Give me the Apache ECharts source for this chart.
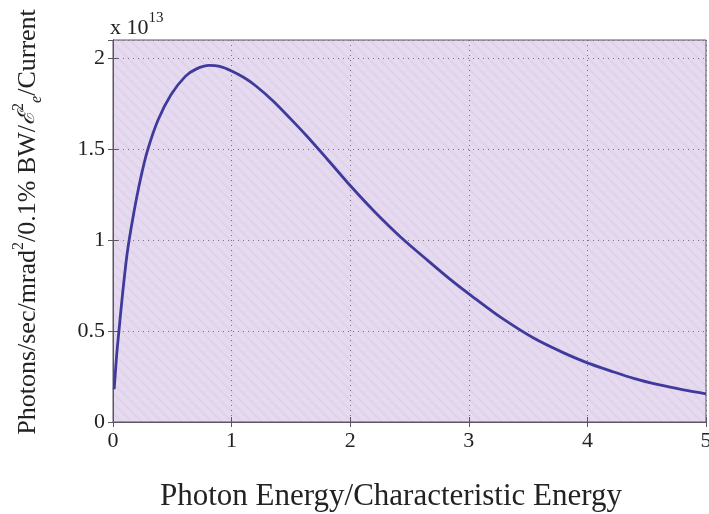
<!DOCTYPE html>
<html>
<head>
<meta charset="utf-8">
<script src="https://cdn.jsdelivr.net/npm/echarts@6/dist/echarts.min.js"></script>
<style>
html,body{margin:0;padding:0;background:#fff;}
#chart{width:709px;height:514px;}
</style>
</head>
<body>
<div id="chart"></div>
<script>
// Photon energy / characteristic energy (x) and brightness in units of 1e13 (y)
const energyRatio = [0.01, 0.03, 0.05, 0.08, 0.12, 0.17, 0.23, 0.29, 0.38, 0.49, 0.61, 0.7, 0.81, 0.9, 1.0, 1.1, 1.2, 1.35, 1.5, 1.63, 1.8, 2.0, 2.2, 2.42, 2.65, 2.87, 3.05, 3.27, 3.55, 3.8, 4.0, 4.2, 4.39, 4.6, 4.8, 5.0];
const brightness  = [0.18, 0.36, 0.50, 0.70, 0.93, 1.13, 1.33, 1.49, 1.66, 1.80, 1.90, 1.94, 1.96, 1.955, 1.93, 1.895, 1.85, 1.765, 1.665, 1.575, 1.45, 1.30, 1.16, 1.02, 0.89, 0.77, 0.68, 0.575, 0.46, 0.38, 0.325, 0.28, 0.24, 0.205, 0.178, 0.155];
const xTicks = [0, 1, 2, 3, 4, 5];
const yTicks = [0, 0.5, 1, 1.5, 2];
const xTitle = 'Photon Energy/Characteristic Energy';
const exponentText = '13';

const seriesData = energyRatio.map((x, i) => [x, brightness[i]]);

// subtle print-like hatch pattern for the plot background
function makePattern(){
  const c = document.createElement('canvas');
  c.width = 10; c.height = 10;
  const g = c.getContext('2d');
  g.fillStyle = '#e4dbf0';
  g.fillRect(0, 0, 10, 10);
  g.strokeStyle = 'rgba(228,204,230,0.7)';
  g.lineWidth = 2;
  for (let k = -10; k <= 20; k += 10) {
    g.beginPath(); g.moveTo(k, 0); g.lineTo(k + 10, 10); g.stroke();
  }
  return c;
}

const chart = echarts.init(document.getElementById('chart'), null, {renderer: 'canvas'});
const serif = '"Liberation Serif", "DejaVu Serif", serif';
const axisCol = '#5a5560';

chart.setOption({
  backgroundColor: '#ffffff',
  animation: false,
  grid: {
    left: 113, right: 3, top: 40, bottom: 92,
    outerBoundsMode: 'none', containLabel: false,
    show: true, backgroundColor: {image: makePattern(), repeat: 'repeat'},
    borderColor: axisCol, borderWidth: 1
  },
  xAxis: [{
    type: 'value', min: 0, max: 5, interval: 1,
    axisLine: {show: true, onZero: false, lineStyle: {color: axisCol, width: 1}},
    axisTick: {show: true, inside: true, length: 5, lineStyle: {color: axisCol}},
    axisLabel: {show: true, margin: 8, color: '#222', fontFamily: serif, fontSize: 22,
      formatter: v => xTicks.includes(v) ? String(v) : ''},
    splitLine: {show: true, lineStyle: {color: '#77707f', type: [1, 4], width: 1}}
  }, {
    type: 'value', min: 0, max: 5, interval: 1, position: 'top',
    axisLine: {show: true, lineStyle: {color: axisCol}},
    axisTick: {show: true, inside: true, length: 5, lineStyle: {color: axisCol}},
    axisLabel: {show: false}, splitLine: {show: false}
  }],
  yAxis: [{
    type: 'value', min: 0, max: 2.1, interval: 0.5,
    axisLine: {show: true, onZero: false, lineStyle: {color: axisCol, width: 1}},
    axisTick: {show: true, inside: true, length: 5, lineStyle: {color: axisCol}},
    axisLabel: {show: true, margin: 8, color: '#222', fontFamily: serif, fontSize: 22,
      showMaxLabel: false,
      formatter: v => yTicks.includes(v) ? String(v) : ''},
    splitLine: {show: true, lineStyle: {color: '#77707f', type: [1, 4], width: 1}}
  }, {
    type: 'value', min: 0, max: 2.1, interval: 0.5, position: 'right',
    axisLine: {show: true, lineStyle: {color: axisCol}},
    axisTick: {show: true, inside: true, length: 5, lineStyle: {color: axisCol}},
    axisLabel: {show: false}, splitLine: {show: false}
  }],
  graphic: [{
    type: 'text', left: 110, top: 11,
    style: {
      text: '{a|x 10}{e|' + exponentText + '}',
      rich: {
        a: {fontFamily: serif, fontSize: 22, fill: '#222', lineHeight: 28, verticalAlign: 'bottom'},
        e: {fontFamily: serif, fontSize: 15, fill: '#222', lineHeight: 28, verticalAlign: 'top'}
      }
    }
  }, {
    type: 'text', x: 391, y: 497,
    style: {
      text: xTitle, fontFamily: serif, fontSize: 31, fill: '#222',
      align: 'center', verticalAlign: 'middle'
    }
  }, {
    type: 'text', x: 28, y: 222, rotation: Math.PI / 2,
    style: {
      text: '{t|Photons/sec/mrad}{s|2}{t|/0.1% BW/}{E|ℰ}{s|2}{b|e}{t|/Current}',
      align: 'center', verticalAlign: 'middle',
      rich: {
        t: {fontFamily: serif, fontSize: 26, fill: '#222', lineHeight: 34, verticalAlign: 'middle'},
        E: {fontFamily: '"DejaVu Serif", serif', fontStyle: 'italic', fontSize: 23, fill: '#222', lineHeight: 34, verticalAlign: 'middle'},
        s: {fontFamily: serif, fontSize: 16, fill: '#222', verticalAlign: 'top', lineHeight: 34},
        b: {fontFamily: serif, fontStyle: 'italic', fontSize: 16, fill: '#222', verticalAlign: 'bottom', lineHeight: 34}
      }
    }
  }],
  series: [{
    type: 'line', data: seriesData, xAxisIndex: 0, yAxisIndex: 0,
    smooth: 0.3, showSymbol: false, symbol: 'none',
    lineStyle: {color: '#3f3a9c', width: 2.8},
    z: 5
  }]
});
</script>
</body>
</html>
